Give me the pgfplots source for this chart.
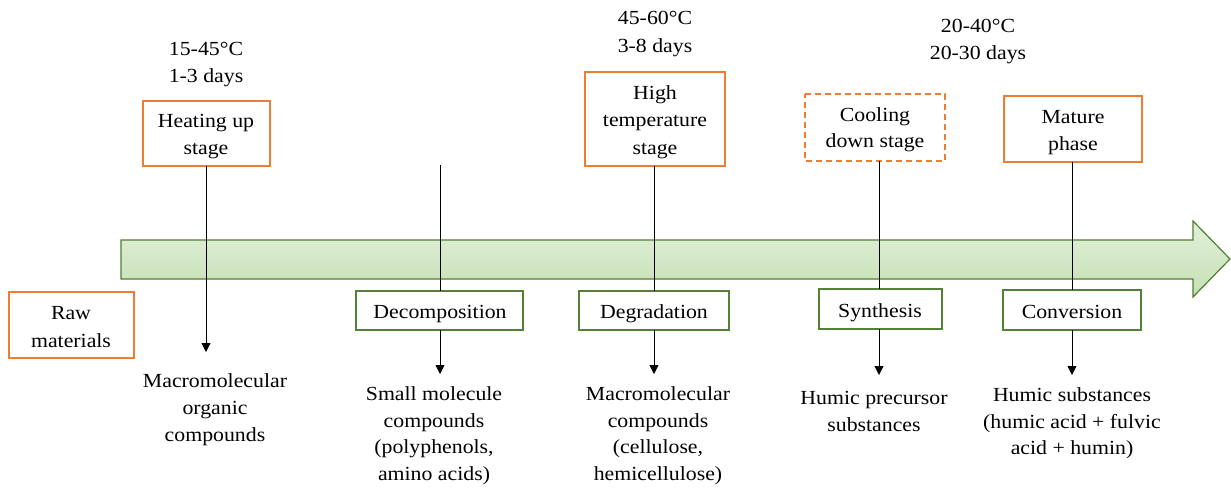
\documentclass[border=0pt]{standalone}
\usepackage{pgfplots}
\pgfplotsset{compat=1.18}
\usepackage{fontspec}
\setmainfont{Liberation Serif}[FakeStretch=1.09]
\usetikzlibrary{arrows.meta}
\definecolor{org}{HTML}{ED7D31}
\definecolor{grn}{HTML}{538135}
\definecolor{agl}{HTML}{E2F0D9}
\definecolor{agd}{HTML}{C5E0B4}
\definecolor{agb}{HTML}{507E32}
\newcommand\T[3]{\node[anchor=base,inner sep=0pt,font=\fontsize{20}{27}\selectfont] at (axis cs:#1,#2) {#3};}
\begin{document}
\begin{tikzpicture}
\begin{axis}[width=1231pt,height=489pt,scale only axis,xmin=0,xmax=1231,ymin=0,ymax=489,y dir=reverse,hide axis,clip=false,no markers]
% frame for bounding box
\addplot[draw=none] coordinates {(0,0)(1231,0)(1231,489)(0,489)};
% big arrow
\addplot[draw=agb,line width=1.2pt,top color=agl,bottom color=agd] coordinates {(121,240)(1193,240)(1193,221)(1230,259)(1193,297)(1193,279)(121,279)} -- cycle;
% orange boxes
\addplot[draw=org,line width=1.3pt] coordinates {(9,292)(134,292)(134,358)(9,358)} -- cycle;
\addplot[draw=org,line width=1.3pt] coordinates {(143,101)(270,101)(270,166)(143,166)} -- cycle;
\addplot[draw=org,line width=1.3pt] coordinates {(585,72)(725,72)(725,166)(585,166)} -- cycle;
\addplot[draw=org,line width=1.3pt,dash pattern=on 6pt off 4pt] coordinates {(805,94)(945,94)(945,161)(805,161)} -- cycle;
\addplot[draw=org,line width=1.3pt] coordinates {(1004,96)(1142,96)(1142,162)(1004,162)} -- cycle;
% green boxes
\addplot[draw=grn,line width=1.3pt] coordinates {(356,291)(523,291)(523,330)(356,330)} -- cycle;
\addplot[draw=grn,line width=1.3pt] coordinates {(579,291)(729,291)(729,330)(579,330)} -- cycle;
\addplot[draw=grn,line width=1.3pt] coordinates {(819,289)(942,289)(942,329)(819,329)} -- cycle;
\addplot[draw=grn,line width=1.3pt] coordinates {(1003,290)(1141,290)(1141,330)(1003,330)} -- cycle;
% connector lines
\addplot[black,line width=0.8pt,-{Triangle[width=9pt,length=9pt]}] coordinates {(206,166)(206,352)};
\addplot[black,line width=0.8pt] coordinates {(440,165)(440,291)};
\addplot[black,line width=0.8pt,-{Triangle[width=9pt,length=9pt]}] coordinates {(440,330)(440,374)};
\addplot[black,line width=0.8pt] coordinates {(654,166)(654,291)};
\addplot[black,line width=0.8pt,-{Triangle[width=9pt,length=9pt]}] coordinates {(654,330)(654,374)};
\addplot[black,line width=0.8pt] coordinates {(879,161)(879,289)};
\addplot[black,line width=0.8pt,-{Triangle[width=9pt,length=9pt]}] coordinates {(879,329)(879,375)};
\addplot[black,line width=0.8pt] coordinates {(1072,162)(1072,290)};
\addplot[black,line width=0.8pt,-{Triangle[width=9pt,length=9pt]}] coordinates {(1072,330)(1072,375)};
% texts
\T{71}{319}{Raw}
\T{71}{347}{materials}
\T{206}{56}{15-45°C}
\T{206}{83}{1-3 days}
\T{206}{128}{Heating up}
\T{206}{155}{stage}
\T{655}{25}{45-60°C}
\T{655}{53}{3-8 days}
\T{655}{100}{High}
\T{655}{127}{temperature}
\T{655}{155}{stage}
\T{875}{122}{Cooling}
\T{875}{148}{down stage}
\T{1073}{124}{Mature}
\T{1073}{151}{phase}
\T{978}{33}{20-40°C}
\T{978}{60}{20-30 days}
\T{440}{318}{Decomposition}
\T{654}{318}{Degradation}
\T{880}{317}{Synthesis}
\T{1072}{318}{Conversion}
\T{215}{387}{Macromolecular}
\T{215}{414}{organic}
\T{215}{441}{compounds}
\T{434}{400}{Small molecule}
\T{434}{427}{compounds}
\T{434}{453}{(polyphenols,}
\T{434}{480}{amino acids)}
\T{658}{400}{Macromolecular}
\T{658}{427}{compounds}
\T{658}{453}{(cellulose,}
\T{658}{480}{hemicellulose)}
\T{874}{404}{Humic precursor}
\T{874}{431}{substances}
\T{1072}{401}{Humic substances}
\T{1072}{428}{(humic acid + fulvic}
\T{1072}{454}{acid + humin)}
\end{axis}
\end{tikzpicture}
\end{document}
